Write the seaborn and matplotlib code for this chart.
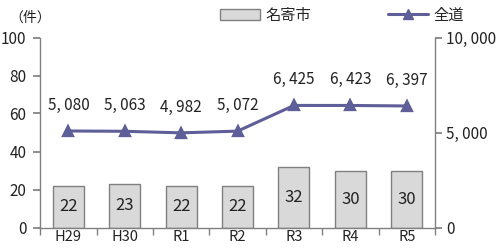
import matplotlib
matplotlib.use("Agg")
import matplotlib.pyplot as plt
import seaborn as sns
from matplotlib.patches import Patch
from matplotlib.lines import Line2D

# =========================
# Data
# =========================
years = ["H29", "H30", "R1", "R2", "R3", "R4", "R5"]
nayoro = [22, 23, 22, 22, 32, 30, 30]
zendo = [5080, 5063, 4982, 5072, 6425, 6423, 6397]

bar_color = "#D9D9D9"
bar_edge = "#808080"
line_color = "#5E5E98"
axis_color = "#808080"

sns.set_theme(style="white")
plt.rcParams["font.family"] = ["Noto Sans CJK JP", "DejaVu Sans"]


def fmt(v):
    return f"{v:,}".replace(",", ", ")


fig = plt.figure(figsize=(4.96, 2.5), dpi=100)
ax = fig.add_axes([0.081, 0.09, 0.796, 0.76])

# =========================
# Bars (left axis)
# =========================
sns.barplot(x=years, y=nayoro, ax=ax, color=bar_color, edgecolor=bar_edge,
            linewidth=1, width=0.55, saturation=1)
for i, v in enumerate(nayoro):
    ax.text(i, v / 2, str(v), ha="center", va="center", fontsize=12, color="#222222")

ax.set_ylim(0, 100)
ax.set_yticks(range(0, 101, 20))
ax.set_xlim(-0.5, len(years) - 0.5)

# =========================
# Line (right axis)
# =========================
ax2 = ax.twinx()
sns.pointplot(x=years, y=zendo, ax=ax2, color=line_color, markers="^",
              markersize=7.5, linewidth=2.2)
for i, v in enumerate(zendo):
    ax2.text(i, v + 900, fmt(v), ha="center", va="bottom", fontsize=11, color="#222222")
ax2.set_ylim(0, 10000)
ax2.set_yticks([0, 5000, 10000])
ax2.set_yticklabels([fmt(t) for t in [0, 5000, 10000]])
ax2.set_xlim(-0.5, len(years) - 0.5)

# =========================
# Axis styling
# =========================
for a in (ax, ax2):
    a.spines["top"].set_visible(False)
    for s in ["left", "right", "bottom"]:
        a.spines[s].set_color(axis_color)
        a.spines[s].set_linewidth(1)
ax.spines["right"].set_visible(False)
ax2.spines["left"].set_visible(False)
ax2.spines["bottom"].set_visible(False)

ax.tick_params(axis="y", direction="out", length=5, color=axis_color, left=True,
               labelsize=11, labelcolor="#222222", pad=5)
ax2.tick_params(axis="y", direction="out", length=5, color=axis_color, right=True,
                labelsize=11, labelcolor="#222222", pad=3)
ax.set_xticks(range(len(years)))
ax.set_xticklabels(years)
ax.set_xticks([i - 0.5 for i in range(len(years) + 1)], minor=True)
ax.tick_params(axis="x", which="major", length=0, labelsize=10.5, labelcolor="#222222", pad=2)
ax.tick_params(axis="x", which="minor", direction="out", length=5, color=axis_color, bottom=True)
ax.set_xlabel("")
ax.set_ylabel("")
ax2.set_xlabel("")
ax2.set_ylabel("")

fig.text(0.018, 0.93, "（件）", fontsize=10, color="#222222", va="center")

handles = [
    Patch(facecolor=bar_color, edgecolor=bar_edge, label="名寄市"),
    Line2D([0], [0], color=line_color, lw=2.2, marker="^", markersize=7, label="全道"),
]
fig.legend(handles=handles, loc="center", bbox_to_anchor=(0.69, 0.94), ncol=2,
           frameon=False, fontsize=11, columnspacing=5, handlelength=2.6,
           handleheight=0.7, handletextpad=0.4)

fig.savefig("out.png", dpi=100)
